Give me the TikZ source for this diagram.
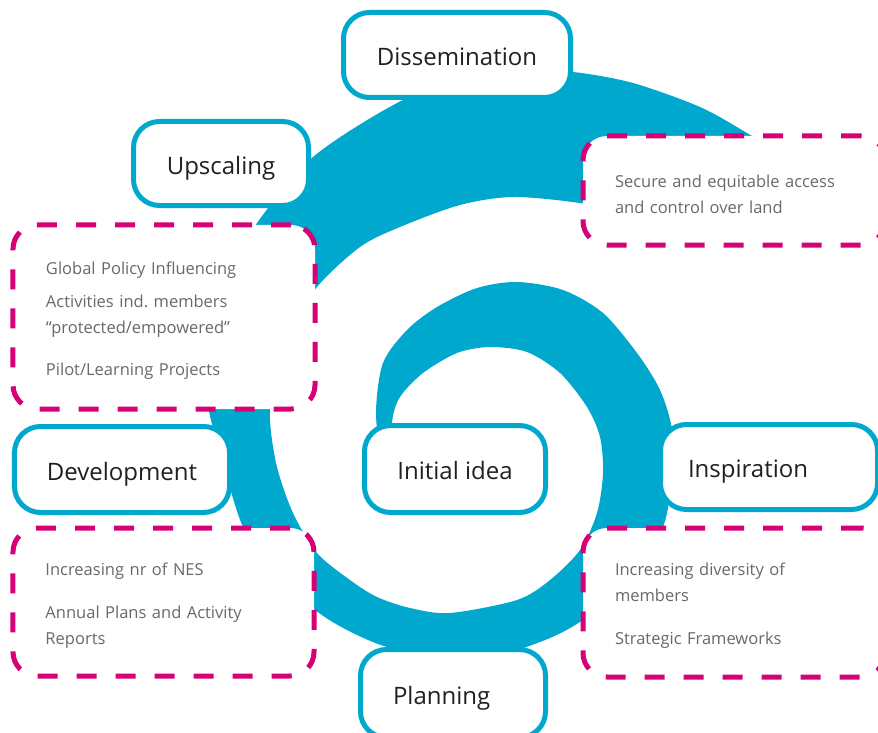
\documentclass[tikz,border=0pt]{standalone}
\usepackage{fontspec}
\setmainfont{Open Sans}
\usepackage{tikz}
\definecolor{spiralblue}{RGB}{0,168,206}
\definecolor{notepink}{RGB}{214,0,119}
\definecolor{headtext}{RGB}{35,31,32}
\definecolor{notetext}{RGB}{105,105,108}

\begin{document}
\begin{tikzpicture}[x=1bp, y=-1bp,
  stagebox/.style={
    draw=spiralblue, line width=5bp, fill=white,
    rounded corners=26bp, inner sep=0pt,
    text=headtext, text height=21.8bp, text depth=0bp,
    font=\fontsize{24bp}{28bp}\selectfont,
  },
  notebox/.style={
    draw=notepink, line width=5bp, dash pattern=on 20bp off 19bp,
    fill=white, rounded corners=24bp, inner sep=0pt, align=left,
    text=notetext, font=\fontsize{16.5bp}{26bp}\selectfont,
    execute at begin node=\rule{0pt}{19.5bp},
  }]
  \useasboundingbox (0,0) rectangle (878,733);
  \clip (0,0) rectangle (878,733);
  \fill[spiralblue] plot[smooth] coordinates {(382,470) (376,413) (383,363) (407,330) (437,307) (477,288) (517,282) (563,290) (603,313) (637,353) (660,390) (672,430) (671,480) (663,527) (630,585) (583,620) (550,638) (500,655) (450,660) (387,647) (347,630) (315,610) (272,572) (243,527) (225,470) (208,405) (207,340) (225,280) (257,223) (313,157) (397,103) (460,80) (520,71) (573,72) (633,83) (700,107) (747,133) (800,165)}
    -- plot[smooth] coordinates {(700,232) (640,215) (580,203) (513,197) (460,205) (400,227) (360,247) (317,287) (293,330) (274,380) (270,420) (277,467) (293,513) (317,553) (350,580) (377,597) (410,608) (450,613) (517,600) (550,580) (580,550) (597,513) (603,473) (600,437) (587,407) (560,373) (527,352) (490,347) (457,353) (423,373) (400,397) (392,423) (394,470)}
    -- cycle;
  \node[stagebox, minimum width=227bp, minimum height=85bp] (dissemination) at (457,55) {Dissemination};
  \node[stagebox, minimum width=175bp, minimum height=84bp] (upscaling) at (221,163.5) {Upscaling};
  \node[stagebox, minimum width=215bp, minimum height=86bp] (development) at (122,469.5) {Development};
  \node[stagebox, minimum width=181bp, minimum height=87bp] (idea) at (455,469) {Initial idea};
  \node[stagebox, minimum width=217bp, minimum height=85bp, text width=162bp, align=left] (inspiration) at (769,467) {Inspiration};
  \node[stagebox, minimum width=185bp, minimum height=88bp, text width=120bp, align=left] (planning) at (453,693.5) {Planning};
  \node[notebox, minimum width=302bp, minimum height=184bp, text width=236bp] (policy) at (164,317) {Global Policy Influencing\\[7bp] Activities ind.\ members\\ “protected/empowered”\\[16bp] Pilot/Learning Projects};
  \node[notebox, minimum width=301bp, minimum height=148bp, text width=236bp] (growth) at (163.5,602) {Increasing nr of NES\\[17bp] Annual Plans and Activity\\ Reports};
  \node[notebox, minimum width=302bp, minimum height=109bp, text width=238bp] (land) at (734,190.5) {Secure and equitable access\\ and control over land};
  \node[notebox, minimum width=302bp, minimum height=149bp, text width=238bp] (diversity) at (734,602.5) {Increasing diversity of\\ members\\[17bp] Strategic Frameworks};
\end{tikzpicture}
\end{document}
